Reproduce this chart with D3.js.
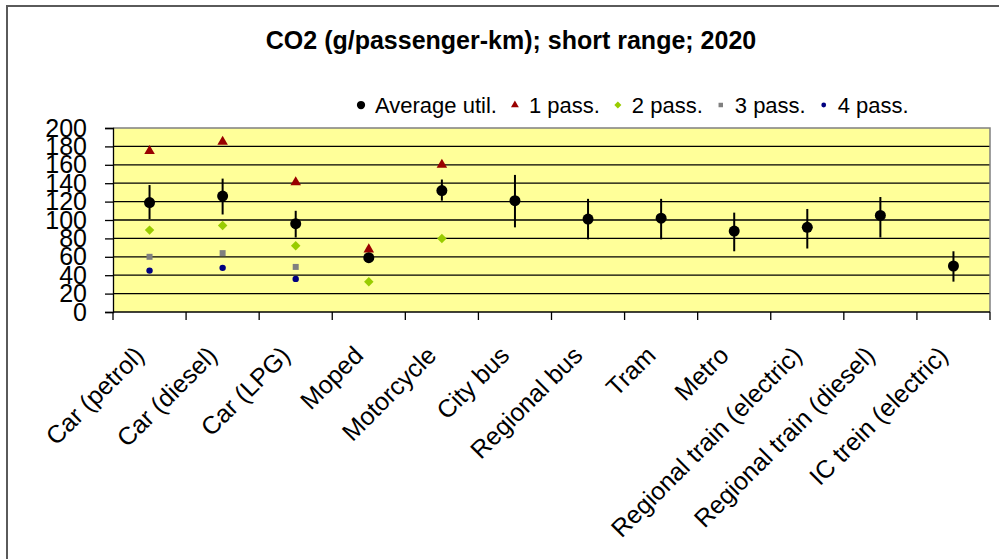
<!DOCTYPE html>
<html>
<head>
<meta charset="utf-8">
<script src="https://cdn.jsdelivr.net/npm/d3@7"></script>
<style>
  html, body { margin: 0; padding: 0; background: #fff; }
  svg { display: block; font-family: "Liberation Sans", Arial, sans-serif; }
</style>
</head>
<body>
<div id="chart"></div>
<script>
  const categories = ['Car (petrol)', 'Car (diesel)', 'Car (LPG)', 'Moped', 'Motorcycle', 'City bus',
    'Regional bus', 'Tram', 'Metro', 'Regional train (electric)', 'Regional train (diesel)', 'IC trein (electric)'];

  // average utilisation with its range
  const avgUtil = [119, 126, 96, 59, 132, 121, 101, 102, 88, 92, 105, 50];
  const rangeLow = [101, 106, 81, 56, 121, 92, 79, 79, 66, 69, 81, 33];
  const rangeHigh = [138, 145, 110, 63, 144, 149, 123, 123, 108, 112, 125, 66];

  // fixed occupancy values (only where they exist)
  const pass1 = [175, 185, 141, 68, 160, null, null, null, null, null, null, null];
  const pass2 = [89, 94, 72, 33, 80, null, null, null, null, null, null, null];
  const pass3 = [60, 64, 49, null, null, null, null, null, null, null, null, null];
  const pass4 = [45, 48, 36, null, null, null, null, null, null, null, null, null];

  const yTicks = [0, 20, 40, 60, 80, 100, 120, 140, 160, 180, 200];
  const legendLabels = ['Average util.', '1 pass.', '2 pass.', '3 pass.', '4 pass.'];

  const W = 999;
  const H = 559;
  const plot = { left: 113, right: 990, top: 128, bottom: 312 };

  const svg = d3.select('#chart').append('svg')
    .attr('width', W)
    .attr('height', H);

  // outer chart border (open to the right and bottom)
  svg.append('path')
    .attr('d', `M7,${H} L7,6 L${W},6`)
    .attr('fill', 'none')
    .attr('stroke', '#5a5a5a')
    .attr('stroke-width', 2);

  svg.append('text')
    .attr('x', 511)
    .attr('y', 49)
    .attr('text-anchor', 'middle')
    .attr('font-size', 25)
    .attr('font-weight', 'bold')
    .text('CO2 (g/passenger-km); short range; 2020');

  const x = d3.scaleBand()
    .domain(categories)
    .range([plot.left, plot.right]);

  const y = d3.scaleLinear()
    .domain([0, 200])
    .range([plot.bottom, plot.top]);

  // plot background
  svg.append('rect')
    .attr('x', plot.left)
    .attr('y', plot.top)
    .attr('width', plot.right - plot.left)
    .attr('height', plot.bottom - plot.top)
    .attr('fill', '#ffff99');

  // gridlines
  svg.append('g')
    .selectAll('line')
    .data(yTicks.filter((t) => t > 0 && t < 200))
    .join('line')
    .attr('x1', plot.left)
    .attr('x2', plot.right)
    .attr('y1', (d) => y(d))
    .attr('y2', (d) => y(d))
    .attr('stroke', '#000')
    .attr('stroke-width', 1.3);

  // gray border on top and right
  svg.append('path')
    .attr('d', `M${plot.left},${plot.top} L${plot.right},${plot.top} L${plot.right},${plot.bottom}`)
    .attr('fill', 'none')
    .attr('stroke', '#808080')
    .attr('stroke-width', 1.5);

  // y axis
  const yAxis = svg.append('g')
    .attr('transform', `translate(${plot.left},0)`)
    .call(d3.axisLeft(y).tickValues(yTicks).tickSize(8).tickPadding(18));
  yAxis.select('.domain').attr('stroke', '#000').attr('stroke-width', 1.3);
  yAxis.selectAll('.tick line').attr('stroke', '#000').attr('stroke-width', 1.3);
  yAxis.selectAll('.tick text')
    .attr('font-size', 25)
    .attr('font-family', '"Liberation Sans", Arial, sans-serif')
    .attr('fill', '#000');

  // x axis: ticks on category boundaries
  const xAxisG = svg.append('g');
  xAxisG.append('line')
    .attr('x1', plot.left)
    .attr('x2', plot.right)
    .attr('y1', plot.bottom)
    .attr('y2', plot.bottom)
    .attr('stroke', '#000')
    .attr('stroke-width', 1.3);
  xAxisG.selectAll('.xtick')
    .data(categories.concat(['end']))
    .join('line')
    .attr('class', 'xtick')
    .attr('x1', (d, i) => plot.left + i * x.bandwidth())
    .attr('x2', (d, i) => plot.left + i * x.bandwidth())
    .attr('y1', plot.bottom)
    .attr('y2', plot.bottom + 8)
    .attr('stroke', '#000')
    .attr('stroke-width', 1.3);

  xAxisG.selectAll('.xlabel')
    .data(categories)
    .join('text')
    .attr('class', 'xlabel')
    .attr('text-anchor', 'end')
    .attr('font-size', 25)
    .attr('transform', (d) => `translate(${x(d) + x.bandwidth() / 2 - 4},357) rotate(-45)`)
    .text((d) => d);

  const cx = (i) => x(categories[i]) + x.bandwidth() / 2;
  const idx = categories.map((d, i) => i);

  // range bars
  svg.append('g')
    .selectAll('line')
    .data(idx)
    .join('line')
    .attr('x1', cx)
    .attr('x2', cx)
    .attr('y1', (i) => y(rangeLow[i]))
    .attr('y2', (i) => y(rangeHigh[i]))
    .attr('stroke', '#000')
    .attr('stroke-width', 2);

  const series = [
    { values: pass4, shape: 'dot', color: '#000080' },
    { values: pass3, shape: 'square', color: '#808080' },
    { values: pass2, shape: 'diamond', color: '#99cc00' },
    { values: pass1, shape: 'triangle', color: '#990000' },
  ];

  function marker(sel, shape, color, scale) {
    if (shape === 'avg') {
      sel.append('circle').attr('r', 5.5 * scale).attr('fill', '#000');
    } else if (shape === 'dot') {
      sel.append('circle').attr('r', 3.2 * scale).attr('fill', color);
    } else if (shape === 'square') {
      sel.append('path').attr('d', d3.symbol(d3.symbolSquare, 36 * scale * scale)()).attr('fill', color);
    } else if (shape === 'diamond') {
      sel.append('path').attr('d', d3.symbol(d3.symbolSquare, 45 * scale * scale)())
        .attr('transform', 'rotate(45)').attr('fill', color);
    } else if (shape === 'triangle') {
      sel.append('path').attr('d', d3.symbol(d3.symbolTriangle, 48 * scale * scale)()).attr('fill', color);
    }
  }

  series.forEach((s) => {
    idx.filter((i) => s.values[i] !== null).forEach((i) => {
      const g = svg.append('g').attr('transform', `translate(${cx(i)},${y(s.values[i])})`);
      marker(g, s.shape, s.color, 1);
    });
  });

  idx.forEach((i) => {
    const g = svg.append('g').attr('transform', `translate(${cx(i)},${y(avgUtil[i])})`);
    marker(g, 'avg', '#000', 1);
  });

  // legend
  const legendShapes = [
    { shape: 'avg', color: '#000' },
    { shape: 'triangle', color: '#990000' },
    { shape: 'diamond', color: '#99cc00' },
    { shape: 'square', color: '#808080' },
    { shape: 'dot', color: '#000080' },
  ];
  const legend = svg.append('g').attr('transform', 'translate(361,105)');
  let lx = 0;
  legendLabels.forEach((label, i) => {
    const g = legend.append('g').attr('transform', `translate(${lx},0)`);
    marker(g, legendShapes[i].shape, legendShapes[i].color, 0.75);
    const t = g.append('text')
      .attr('x', 14)
      .attr('y', 8)
      .attr('font-size', 22)
      .attr('fill', '#000')
      .text(label);
    lx += 14 + t.node().getComputedTextLength() + 18;
  });
</script>
</body>
</html>
